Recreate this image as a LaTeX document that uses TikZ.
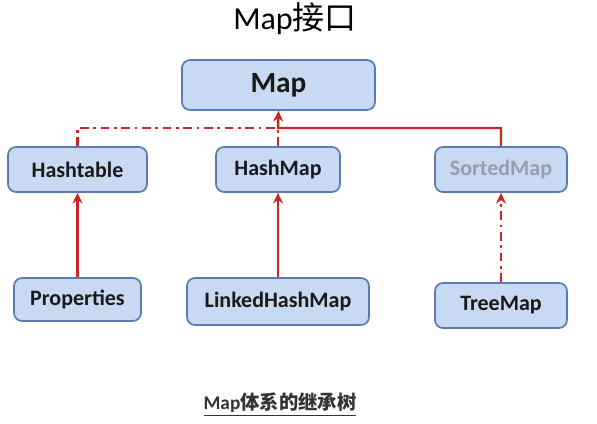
\documentclass[tikz,border=0pt]{standalone}
\usepackage{fontspec}
\setmainfont{Carlito}
\newfontfamily\cjk{Noto Sans CJK SC}
\usepackage{xcolor}
\usepackage{tikz}
\usetikzlibrary{arrows.meta}
\usetikzlibrary{calc}
\definecolor{boxfill}{RGB}{199,218,241}
\definecolor{boxline}{RGB}{92,124,176}
\definecolor{linkred}{RGB}{200,40,36}
\definecolor{greytext}{RGB}{150,158,172}

\begin{document}
\begin{tikzpicture}[x=0.75pt,y=-0.75pt,>={Stealth[length=8pt,width=7.5pt]},
cls/.style ={rectangle,rounded corners=6pt,draw=boxline,line width=1.3pt,fill=boxfill,text=black!90,font=\bfseries\fontsize{16.5}{19}\selectfont},
solidlink/.style ={draw=linkred,line width=1.8pt},
dashlink/.style ={draw=linkred,line width=1.8pt,dash pattern=on 6.5pt off 3.5pt on 2pt off 3.5pt}]
\useasboundingbox (0,0) rectangle (597,424);
\node[anchor=base] (title) at (295,30) {\fontsize{24}{28}\selectfont Map\cjk 接口};
\node[cls, minimum width=144.75pt, minimum height=37.5pt, font=\bfseries\fontsize{22}{25}\selectfont] (map) at (278.5,85) {Map};
\node[cls, minimum width=104.25pt, minimum height=33.75pt] (hashtable) at (77.5,169.5) {Hashtable};
\node[cls, minimum width=93pt, minimum height=33.75pt] (hashmap) at (278,169.5) {HashMap};
\node[cls, minimum width=99pt, minimum height=33.75pt, text=greytext] (sortedmap) at (501,169.5) {SortedMap};
\node[cls, minimum width=95.25pt, minimum height=32.25pt] (properties) at (77.5,299.5) {Properties};
\node[cls, minimum width=136.5pt, minimum height=35.25pt] (linked) at (278,301.5) {LinkedHashMap};
\node[cls, minimum width=99pt, minimum height=33.75pt] (treemap) at (501,305.5) {TreeMap};
\coordinate (hub) at (278,128);
% implements / extends
\draw[dashlink] (hashtable.north) |- (hub);
\draw[dashlink] (hashmap.north) -- (hub);
\draw[solidlink,->] (sortedmap.north) |- (hub) -- (map.south);
\draw[solidlink,->] (properties.north) -- (hashtable.south);
\draw[solidlink,->] (linked.north) -- (hashmap.south);
\draw[dashlink,->] (treemap.north) -- (sortedmap.south);
\node[anchor=base, text=black!80] (caption) at (280,410) {\bfseries\fontsize{14.5}{17}\selectfont\underline{Map\cjk 体系的继承树}};
\end{tikzpicture}
\end{document}
